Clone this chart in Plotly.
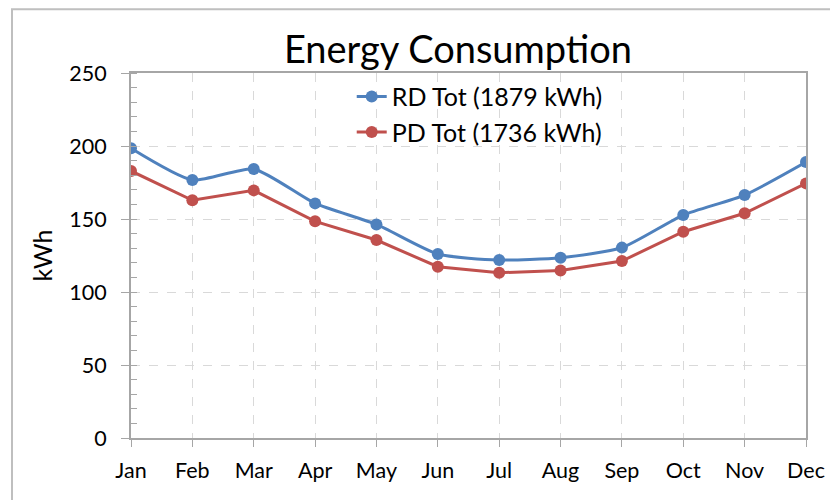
import plotly.graph_objects as go

months = ["Jan", "Feb", "Mar", "Apr", "May", "Jun", "Jul", "Aug", "Sep", "Oct", "Nov", "Dec"]
rd_tot = [198.4, 176.7, 184.2, 160.7, 146.3, 126.0, 121.9, 123.5, 130.4, 152.7, 166.4, 189.0]
pd_tot = [182.9, 162.8, 169.6, 148.4, 135.6, 117.3, 113.2, 114.8, 121.2, 141.3, 153.9, 174.4]
rd_name = "RD Tot (1879 kWh)"
pd_name = "PD Tot (1736 kWh)"
y_ticks = [0, 50, 100, 150, 200, 250]

FONT = "Lato"
BLUE = "#4F81BD"
RED = "#C0504D"
AXIS = "#A6A6A6"
GRID = "#D9D9D9"

fig = go.Figure()
fig.add_trace(go.Scatter(
    x=list(range(len(months))), y=rd_tot, name=rd_name, mode="lines+markers",
    line=dict(color=BLUE, width=3, shape="spline", smoothing=0.6),
    marker=dict(color=BLUE, size=12),
))
fig.add_trace(go.Scatter(
    x=list(range(len(months))), y=pd_tot, name=pd_name, mode="lines+markers",
    line=dict(color=RED, width=3),
    marker=dict(color=RED, size=12),
))

fig.update_layout(
    width=830, height=492,
    margin=dict(l=123, r=32, t=65, b=62),
    paper_bgcolor="white", plot_bgcolor="white",
    font=dict(family=FONT, color="#000000", size=21),
    title=dict(text="Energy Consumption", x=0.4844, xanchor="center", xref="paper",
               y=0.915, yanchor="middle", yref="container",
               font=dict(family=FONT, size=38, color="#000000")),
    showlegend=True,
    legend=dict(x=0.327, y=0.998, xanchor="left", yanchor="top",
                bgcolor="rgba(0,0,0,0)", font=dict(size=25, family=FONT),
                tracegroupgap=4),
    xaxis=dict(
        range=[0, 11], tickmode="array", tickvals=list(range(len(months))), ticktext=months,
        showline=True, linecolor=AXIS, linewidth=2, mirror=True,
        ticks="outside", ticklen=7, tickcolor=AXIS, tickwidth=1,
        showgrid=True, gridcolor=GRID, griddash="dash", gridwidth=1,
        zeroline=False, tickfont=dict(size=21.5), ticklabelstandoff=5,
    ),
    yaxis=dict(
        range=[0, 250], tickmode="array", tickvals=y_ticks,
        showline=True, linecolor=AXIS, linewidth=2, mirror=True,
        ticks="outside", ticklen=8, tickcolor=AXIS, tickwidth=1,
        minor=dict(dtick=10, ticks="inside", ticklen=6, tickcolor=AXIS, showgrid=False),
        showgrid=True, gridcolor=GRID, griddash="dash", gridwidth=1,
        zeroline=False, tickfont=dict(size=21.5), ticklabelstandoff=10,
        title=dict(text="kWh", font=dict(size=25), standoff=10),
    ),
)

fig.add_shape(type="rect", xref="paper", yref="paper",
              x0=-0.1763, y0=-0.2, x1=1.06, y1=1.175,
              line=dict(color="#BFBFBF", width=2), fillcolor="rgba(0,0,0,0)", layer="below")

fig.write_html("out.html")
